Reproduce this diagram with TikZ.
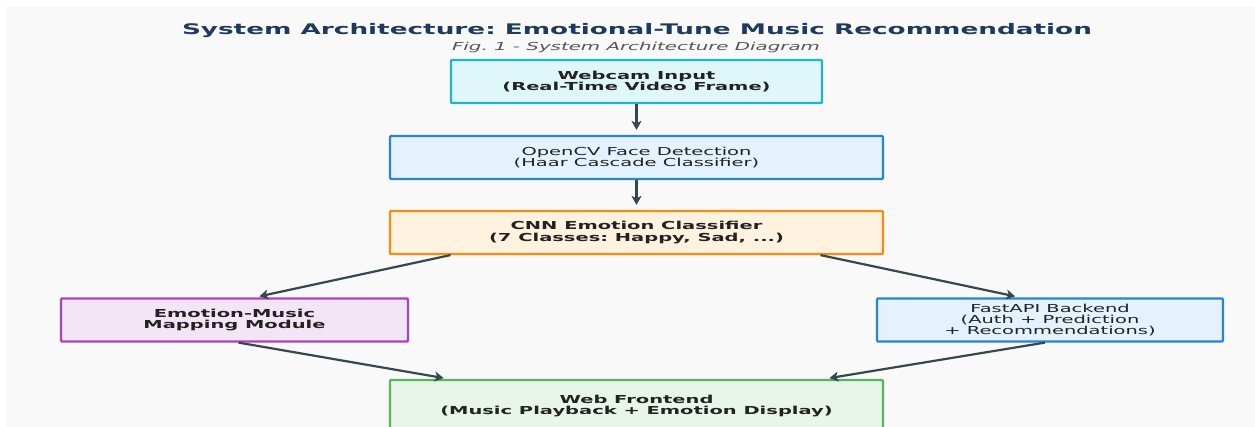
\documentclass[tikz,border=0pt]{standalone}
\usepackage{fontspec}
\setmainfont{DejaVu Sans}
\newfontfamily\widesans[FakeStretch=1.77]{DejaVu Sans}
\newfontfamily\titlesans[FakeStretch=1.8]{DejaVu Sans}
\usetikzlibrary{positioning}
\usetikzlibrary{arrows.meta}
\frenchspacing

\definecolor{bgcol}{HTML}{F9F9F9}
\definecolor{titlecol}{HTML}{1F3A5F}
\definecolor{subcol}{HTML}{555555}
\definecolor{arrowcol}{HTML}{37474F}
\definecolor{txtcol}{HTML}{222222}
\definecolor{cyanline}{HTML}{1CB5C9}
\definecolor{cyanfill}{HTML}{E0F7FA}
\definecolor{blueline}{HTML}{2C83D6}
\definecolor{bluefill}{HTML}{E3F2FD}
\definecolor{orangeline}{HTML}{F98A14}
\definecolor{orangefill}{HTML}{FFF3E0}
\definecolor{purpleline}{HTML}{A943BB}
\definecolor{purplefill}{HTML}{F3E5F5}
\definecolor{greenline}{HTML}{5BB35F}
\definecolor{greenfill}{HTML}{E8F5E9}

\begin{document}
\begin{tikzpicture} [x = 1pt, y = -1pt,
    block/.style = {draw, line width = 2.2pt, rounded corners = 1pt, align = center,
      text = txtcol, inner sep = 0pt, minimum height = 43pt},
    boldtext/.style = {font = \widesans\bfseries\fontsize{11}{11.3}\selectfont},
    plaintext/.style = {font = \widesans\fontsize{11}{11.3}\selectfont},
    flow/.style = {-{Stealth[length = 9pt, width = 10pt, inset = 2.5pt]}, draw = arrowcol,
      line width = 2.2pt, shorten > = 5pt}]
    \clip (0,0) rectangle (1255,427);
    \useasboundingbox (0,0) rectangle (1255,427);
    \fill [bgcol] (5,7) rectangle (1255,427);

    % title and caption
    \node (title) at (637,31) [text = titlecol, font = \titlesans\bfseries\fontsize{14.6}{16}\selectfont]
      {System Architecture: Emotional-Tune Music Recommendation};
    \node (caption) at (636,47) [text = subcol, font = \titlesans\itshape\fontsize{11}{12}\selectfont]
      {Fig. 1 - System Architecture Diagram};

    % boxes
    \node (webcam) at (636.5,81.5) [block, boldtext, draw = cyanline, fill = cyanfill, minimum width = 371pt]
      {Webcam Input\\(Real-Time Video Frame)};
    \node (opencv) at (636.5,157.5) [block, plaintext, draw = blueline, fill = bluefill, minimum width = 493pt]
      {OpenCV Face Detection\\(Haar Cascade Classifier)};
    \node (cnn) at (636.5,232.5) [block, boldtext, draw = orangeline, fill = orangefill, minimum width = 493pt]
      {CNN Emotion Classifier\\(7 Classes: Happy, Sad, ...)};
    \node (mapping) at (234.5,320) [block, boldtext, draw = purpleline, fill = purplefill, minimum width = 347pt]
      {Emotion-Music\\Mapping Module};
    \node (backend) at (1050,320) [block, plaintext, draw = blueline, fill = bluefill, minimum width = 346pt]
      {FastAPI Backend\\(Auth + Prediction\\+ Recommendations)};
    \node (frontend) at (636.5,405) [block, boldtext, draw = greenline, fill = greenfill, minimum width = 493pt,
      minimum height = 50pt, text depth = 0pt] {Web Frontend\\(Music Playback + Emotion Display)};

    % arrows
    \draw [flow] (webcam) -- (opencv);
    \draw [flow] (opencv) -- (cnn);
    \draw [flow] ([xshift = -186pt]cnn.south) -- ([xshift = 20pt]mapping.north);
    \draw [flow] ([xshift = 184pt]cnn.south) -- ([xshift = -30pt]backend.north);
    \draw [flow] ([xshift = 4pt]mapping.south) -- ([xshift = -188pt]frontend.north);
    \draw [flow] ([xshift = -5pt]backend.south) -- ([xshift = 188pt]frontend.north);
  \end{tikzpicture}
\end{document}
